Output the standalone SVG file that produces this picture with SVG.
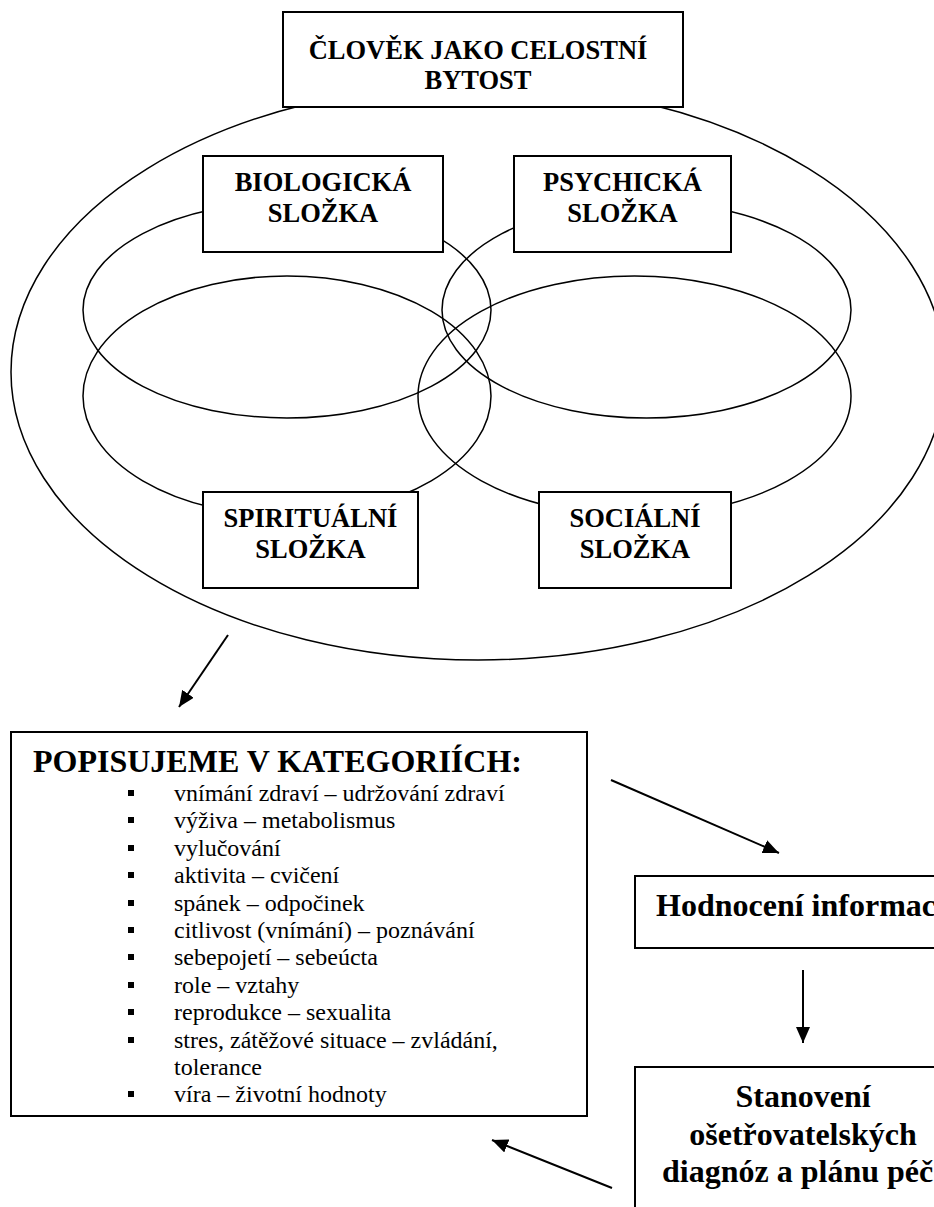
<svg xmlns="http://www.w3.org/2000/svg" width="934" height="1207" viewBox="0 0 934 1207">
<style>
.bg{fill:#fff}
.ell{fill:none;stroke:#000;stroke-width:1.5}
.box{fill:#fff;stroke:#000;stroke-width:2}
.t{font-family:"Liberation Serif","Times New Roman",serif;fill:#000}
.hb{font-weight:bold;font-size:26.5px;text-anchor:middle}
.hd{font-weight:bold;font-size:32px}
.li{font-size:24px}
.bl{fill:#000}
.arr{stroke:#000;stroke-width:2;fill:none;marker-end:url(#ah)}
</style>
<defs>
<marker id="ah" markerUnits="userSpaceOnUse" markerWidth="16" markerHeight="14" viewBox="0 0 16 14" refX="16" refY="7" orient="auto">
<path d="M0,0 L16,7 L0,14 Z" fill="#000"/>
</marker>
</defs>
<rect class="bg" x="0" y="0" width="934" height="1207"/>
<g id="ellipses">
<ellipse class="ell" cx="478" cy="372" rx="467" ry="288"/>
<ellipse class="ell" cx="287" cy="310" rx="204" ry="108"/>
<ellipse class="ell" cx="646.5" cy="310" rx="204.5" ry="108"/>
<ellipse class="ell" cx="287" cy="396" rx="204" ry="120"/>
<ellipse class="ell" cx="634.5" cy="396" rx="216.5" ry="120"/>
</g>
<g id="node-clovek">
<rect class="box" x="283" y="12" width="400" height="95"/>
<text class="t hb" x="478" y="59">ČLOVĚK JAKO CELOSTNÍ</text>
<text class="t hb" x="478" y="89">BYTOST</text>
</g>
<g id="node-bio">
<rect class="box" x="203" y="156" width="240" height="96"/>
<text class="t hb" x="323" y="191">BIOLOGICKÁ</text>
<text class="t hb" x="323" y="222">SLOŽKA</text>
</g>
<g id="node-psych">
<rect class="box" x="514" y="156" width="217" height="96"/>
<text class="t hb" x="622.5" y="191">PSYCHICKÁ</text>
<text class="t hb" x="622.5" y="222">SLOŽKA</text>
</g>
<g id="node-spirit">
<rect class="box" x="203" y="492" width="215" height="96"/>
<text class="t hb" x="310.5" y="527">SPIRITUÁLNÍ</text>
<text class="t hb" x="310.5" y="558">SLOŽKA</text>
</g>
<g id="node-social">
<rect class="box" x="539" y="492" width="192" height="96"/>
<text class="t hb" x="635" y="527">SOCIÁLNÍ</text>
<text class="t hb" x="635" y="558">SLOŽKA</text>
</g>
<g id="node-popis">
<rect class="box" x="11" y="732" width="576" height="384"/>
<text class="t hd" x="33" y="772">POPISUJEME V KATEGORIÍCH:</text>
<g class="bl">
<rect x="128" y="790" width="6" height="6"/>
<rect x="128" y="817" width="6" height="6"/>
<rect x="128" y="845" width="6" height="6"/>
<rect x="128" y="872" width="6" height="6"/>
<rect x="128" y="900" width="6" height="6"/>
<rect x="128" y="927" width="6" height="6"/>
<rect x="128" y="954" width="6" height="6"/>
<rect x="128" y="982" width="6" height="6"/>
<rect x="128" y="1009" width="6" height="6"/>
<rect x="128" y="1037" width="6" height="6"/>
<rect x="128" y="1091" width="6" height="6"/>
</g>
<text class="t li" x="174" y="801">vnímání zdraví – udržování zdraví</text>
<text class="t li" x="174" y="828">výživa – metabolismus</text>
<text class="t li" x="174" y="856">vylučování</text>
<text class="t li" x="174" y="883">aktivita – cvičení</text>
<text class="t li" x="174" y="911">spánek – odpočinek</text>
<text class="t li" x="174" y="938">citlivost (vnímání) – poznávání</text>
<text class="t li" x="174" y="965">sebepojetí – sebeúcta</text>
<text class="t li" x="174" y="993">role – vztahy</text>
<text class="t li" x="174" y="1020">reprodukce – sexualita</text>
<text class="t li" x="174" y="1048">stres, zátěžové situace – zvládání,</text>
<text class="t li" x="174" y="1075">tolerance</text>
<text class="t li" x="174" y="1102">víra – životní hodnoty</text>
</g>
<g id="node-hodnoceni">
<rect class="box" x="635" y="876" width="320" height="72"/>
<text class="t hd" x="656" y="916">Hodnocení informac</text>
</g>
<g id="node-stanoveni">
<rect class="box" x="635" y="1067" width="320" height="160"/>
<text class="t hd" x="803" y="1107" text-anchor="middle">Stanovení</text>
<text class="t hd" x="803" y="1145" text-anchor="middle">ošetřovatelských</text>
<text class="t hd" x="662" y="1182">diagnóz a plánu péč</text>
</g>
<g id="connectors">
<line class="arr" x1="228" y1="635" x2="179" y2="707"/>
<line class="arr" x1="611" y1="780" x2="779" y2="853"/>
<line class="arr" x1="803" y1="970" x2="803" y2="1043"/>
<line class="arr" x1="612" y1="1188" x2="492" y2="1140"/>
</g>
</svg>
